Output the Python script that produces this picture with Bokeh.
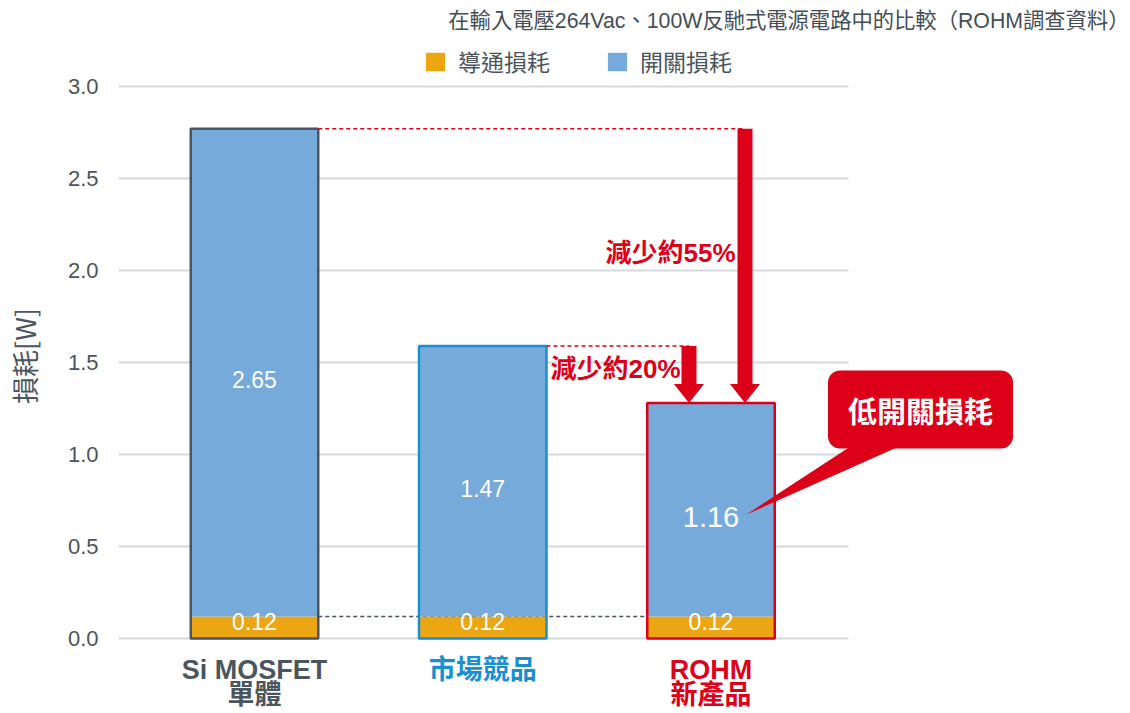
from bokeh.plotting import figure
from bokeh.models import (Range1d, Label, Legend, LegendItem, BoxAnnotation,
                          PolyAnnotation, ColumnDataSource, FixedTicker, NumeralTickFormatter)
from bokeh.core.properties import value
from bokeh.embed import file_html
from bokeh.resources import INLINE

# ---- data ----
categories = ["Si MOSFET\n單體", "市場競品", "ROHM\n新產品"]
conduction = [0.12, 0.12, 0.12]
switching = [2.65, 1.47, 1.16]
cat_colors = ["#4a5560", "#1a8fd0", "#dc0018"]
y_ticks = [0.0, 0.5, 1.0, 1.5, 2.0, 2.5, 3.0]
series_names = ["導通損耗", "開關損耗"]
title_text = "在輸入電壓264Vac、100W反馳式電源電路中的比較（ROHM調查資料）"
callout_text = "低開關損耗"

RED = "#dc0018"
ORANGE = "#eca614"
BLUE = "#76aadb"
GRAY = "#4a5560"
LATIN = "Liberation Sans, Noto Sans CJK TC"
CJK = "Noto Sans CJK TC"

# ---- layout constants (pixels) ----
W, H = 1130, 711
LEFT = 118            # frame left (canvas px)
Y0_PX = 638           # canvas px of y=0
PX_PER_Y = 184.0      # px per unit on y
X0_PX = 254           # canvas px of first category
PX_PER_X = 228.25

def dx(px):  # canvas px -> data x
    return (px - X0_PX) / PX_PER_X

def dy(px):  # canvas px -> data y
    return (Y0_PX - px) / PX_PER_Y

xs = list(range(len(categories)))
totals = [round(c + s, 2) for c, s in zip(conduction, switching)]
BW = 127.5 / PX_PER_X

src = ColumnDataSource(dict(
    x=xs, cond=conduction, sw=switching, total=totals, color=cat_colors,
    cond_lbl=[f"{v:.2f}" for v in conduction],
    sw_lbl=[f"{v:.2f}" for v in switching],
    cond_y=[c - 0.025 for c in conduction],
    sw_y=[c + s / 2 - 0.04 for c, s in zip(conduction, switching)],
    sw_size=["23px", "23px", "29px"],
))

p = figure(width=W, height=H, output_backend="svg", toolbar_location=None,
           x_range=Range1d(dx(LEFT), dx(W)), y_range=Range1d(dy(H), dy(0)),
           x_axis_location=None,
           min_border_left=LEFT, min_border_right=0, min_border_top=0, min_border_bottom=0)
p.outline_line_color = None
p.background_fill_color = "white"
for g in p.xgrid:
    g.visible = False

# y axis
ax = p.yaxis[0]
ax.ticker = FixedTicker(ticks=y_ticks)
ax.formatter = NumeralTickFormatter(format="0.0")
ax.axis_line_color = None
ax.major_tick_line_color = None
ax.minor_tick_line_color = None
ax.major_label_text_font = "Liberation Sans"
ax.major_label_text_font_size = "22px"
ax.major_label_text_color = GRAY
ax.major_label_standoff = 14
ax.axis_label = "損耗[W]"
ax.axis_label_text_font = CJK
ax.axis_label_text_font_style = "normal"
ax.axis_label_text_font_size = "27px"
ax.axis_label_text_color = GRAY
ax.axis_label_standoff = 21
p.ygrid.grid_line_color = "#d6dadf"
p.ygrid.grid_line_width = 2
# grid lines end at the right edge of the plotting area
p.add_layout(BoxAnnotation(left=dx(848), fill_color="white", fill_alpha=1,
                           line_color=None, level="underlay"))

# baseline reference (behind bars)
p.segment(x0=[xs[0] + BW / 2], y0=[conduction[0]], x1=[xs[2] - BW / 2], y1=[conduction[0]],
          line_color=GRAY, line_width=1.5, line_dash="4 3")

# bars
r_c = p.vbar(x="x", bottom=0, top="cond", width=BW, source=src,
             fill_color=ORANGE, line_color=None)
r_s = p.vbar(x="x", bottom="cond", top="total", width=BW, source=src,
             fill_color=BLUE, line_color=None)
p.vbar(x="x", bottom=0, top="total", width=BW, source=src,
       fill_color=None, line_color="color", line_width=2.5)

# value labels
p.text(x="x", y="cond_y", text="cond_lbl", source=src, text_color="white",
       text_font=value("Liberation Sans"), text_font_size="23px",
       text_align="center", text_baseline="middle")
p.text(x="x", y="sw_y", text="sw_lbl", source=src, text_color="white",
       text_font=value("Liberation Sans"), text_font_size="sw_size",
       text_align="center", text_baseline="middle")

# reduction dashed lines
A1X, A2X = dx(744.5), dx(688.5)
p.segment(x0=[xs[0] + BW / 2], y0=[totals[0]], x1=[A1X], y1=[totals[0]],
          line_color=RED, line_width=1.5, line_dash="4 3")
p.segment(x0=[xs[1] + BW / 2], y0=[totals[1]], x1=[A2X], y1=[totals[1]],
          line_color=RED, line_width=1.5, line_dash="4 3")

# arrows (shaft + head polygons)
SH = 7.5 / PX_PER_X   # half shaft width
HH = 15 / PX_PER_X    # half head width
HL = 19 / PX_PER_Y    # head length
for axx, y0 in [(A1X, totals[0]), (A2X, totals[1])]:
    y1 = totals[2]
    p.add_layout(PolyAnnotation(
        xs=[axx - SH, axx + SH, axx + SH, axx + HH, axx, axx - HH, axx - SH],
        ys=[y0, y0, y1 + HL, y1 + HL, y1, y1 + HL, y1 + HL],
        fill_color=RED, fill_alpha=1, line_color=None))

pct55 = round((1 - totals[2] / totals[0]) * 100 / 5) * 5
pct20 = round((1 - totals[2] / totals[1]) * 100 / 5) * 5
p.text(x=[dx(735)], y=[dy(252)], text=[f"減少約{pct55}%"], text_color=RED,
       text_font=value(LATIN), text_font_style="bold", text_font_size="26px",
       text_align="right", text_baseline="middle")
p.text(x=[dx(680)], y=[dy(368)], text=[f"減少約{pct20}%"], text_color=RED,
       text_font=value(LATIN), text_font_style="bold", text_font_size="26px",
       text_align="right", text_baseline="middle")

# callout
p.add_layout(PolyAnnotation(xs=[dx(853), dx(903), dx(746)],
                            ys=[dy(444), dy(444), dy(514)],
                            fill_color=RED, fill_alpha=1, line_color=None))
p.add_layout(Label(x=dx(920), y=dy(409), text=callout_text, text_color="white",
                   text_font=CJK, text_font_style="bold", text_font_size="29px",
                   text_align="center", text_baseline="middle",
                   background_fill_color=RED, background_fill_alpha=1,
                   border_radius=12, padding=(20, 18)))

# category labels
for i, (cat, col) in enumerate(zip(categories, cat_colors)):
    for j, line in enumerate(cat.split("\n")):
        p.add_layout(Label(x=xs[i], y=dy(669 + 25 * j), text=line, text_color=col,
                           text_font=LATIN, text_font_style="bold",
                           text_font_size="27px", text_align="center",
                           text_baseline="middle"))

# title
p.add_layout(Label(x=dx(1129), y=dy(20), text=title_text, text_color="#454d56",
                   text_font=LATIN, text_font_size="21.3px",
                   text_align="right", text_baseline="middle"))

# legend
legend = Legend(items=[LegendItem(label=series_names[0], renderers=[r_c]),
                       LegendItem(label=series_names[1], renderers=[r_s])],
                orientation="horizontal", location=(423 - LEFT, H - 78),
                label_text_font=CJK, label_text_font_size="23px",
                label_text_color=GRAY, glyph_width=24, glyph_height=23,
                label_standoff=11, spacing=55, padding=0, margin=0,
                border_line_color=None, background_fill_alpha=0, label_height=23)
p.add_layout(legend)

open("out.html", "w").write(file_html(p, INLINE))
